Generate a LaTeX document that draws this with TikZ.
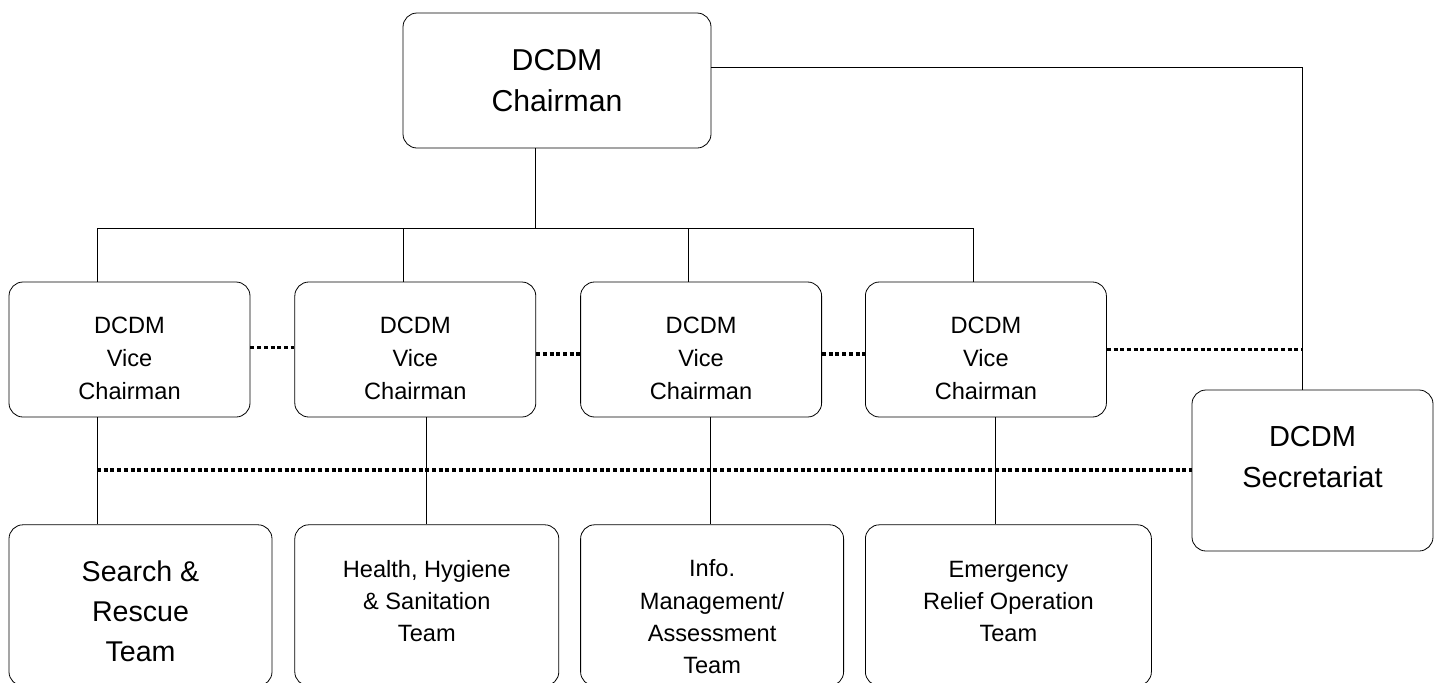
\documentclass[tikz,border=0pt]{standalone}
\usepackage{fontspec}
\setmainfont{Liberation Sans}
\usetikzlibrary{positioning}
\tikzset{x=0.5pt, y=-0.5pt, line width=0.85pt}
\tikzstyle{box} = [draw, rounded corners=7pt, inner sep=0pt, align=center]
\tikzstyle{head} = [box, minimum width=154pt, minimum height=67.5pt, font=\fontsize{15.1}{20.5}\selectfont]
\tikzstyle{vice} = [box, minimum width=120.5pt, minimum height=67.5pt, font=\fontsize{11.8}{16.3}\selectfont, text height=49.5pt, text depth=0pt]
\tikzstyle{secr} = [box, minimum width=120.5pt, minimum height=80.5pt, font=\fontsize{14.5}{20.3}\selectfont, text height=30pt, text depth=13.5pt]
\tikzstyle{team} = [box, minimum width=131.5pt, minimum height=80.5pt, font=\fontsize{11.8}{16.2}\selectfont, text depth=0pt]
\tikzstyle{dotline} = [line width=1.6pt, dash pattern=on 2pt off 1.35pt]

\begin{document}
\begin{tikzpicture}
		\useasboundingbox (0,0) rectangle (1437,682);

		\node [head] (chair) at (557,80.5) {DCDM\\Chairman};

		\node [vice] (vc1) at (129.5,349.5) {DCDM\\Vice\\Chairman};
		\node [vice, right=22pt of vc1] (vc2) {DCDM\\Vice\\Chairman};
		\node [vice, right=22pt of vc2] (vc3) {DCDM\\Vice\\Chairman};
		\node [vice, right=21.5pt of vc3] (vc4) {DCDM\\Vice\\Chairman};

		\node [secr] (sec) at (1312.5,470.5) {DCDM\\Secretariat};

		\node [team, font=\fontsize{14.3}{20}\selectfont, text height=56.5pt, below=53.5pt of vc1.south west, anchor=north west] (t1) {Search \&\\Rescue\\Team};
		\node [team, minimum width=132pt, text height=36.5pt, below=53.5pt of vc2.south west, anchor=north west] (t2) {Health, Hygiene\\\& Sanitation\\Team};
		\node [team, text height=68.5pt, below=53.5pt of vc3.south west, anchor=north west] (t3) {Info.\\Management/\\Assessment\\Team};
		\node [team, minimum width=143pt, text height=36.5pt, below=53.5pt of vc4.south west, anchor=north west] (t4) {Emergency\\Relief Operation\\Team};

		\coordinate (j0) at (535,228);
		\coordinate (j1) at (97,228);
		\coordinate (j2) at (403,228);
		\coordinate (j3) at (688,228);
		\coordinate (j4) at (973,228);
		\coordinate (k1) at (97,0);
		\coordinate (k2) at (426,0);
		\coordinate (k3) at (710,0);
		\coordinate (k4) at (995,0);
		\coordinate (r0) at (1302,67);
		\coordinate (d0) at (97,470);

		\draw (chair.south -| j0) -- (j0);
		\draw (j1) -- (j4);
		\foreach \i in {1,...,4}
			\draw (j\i) -- (j\i |- vc\i.north);
		\foreach \i in {1,...,4}
			\draw (vc\i.south -| k\i) -- (t\i.north -| k\i);

		\draw (chair.east |- r0) -- (r0) -- (r0 |- sec.north);

		\draw [dotline] ([yshift=1pt]vc1.east) -- ([yshift=1pt]vc2.west);
		\draw [dotline] ([yshift=-2.25pt]vc2.east) -- ([yshift=-2.25pt]vc3.west);
		\draw [dotline] ([yshift=-2.25pt]vc3.east) -- ([yshift=-2.25pt]vc4.west);
		\draw [dotline] (vc4.east) -- (vc4.east -| r0);
		\draw [dotline] (d0) -- (d0 -| sec.west);
	\end{tikzpicture}
\end{document}
